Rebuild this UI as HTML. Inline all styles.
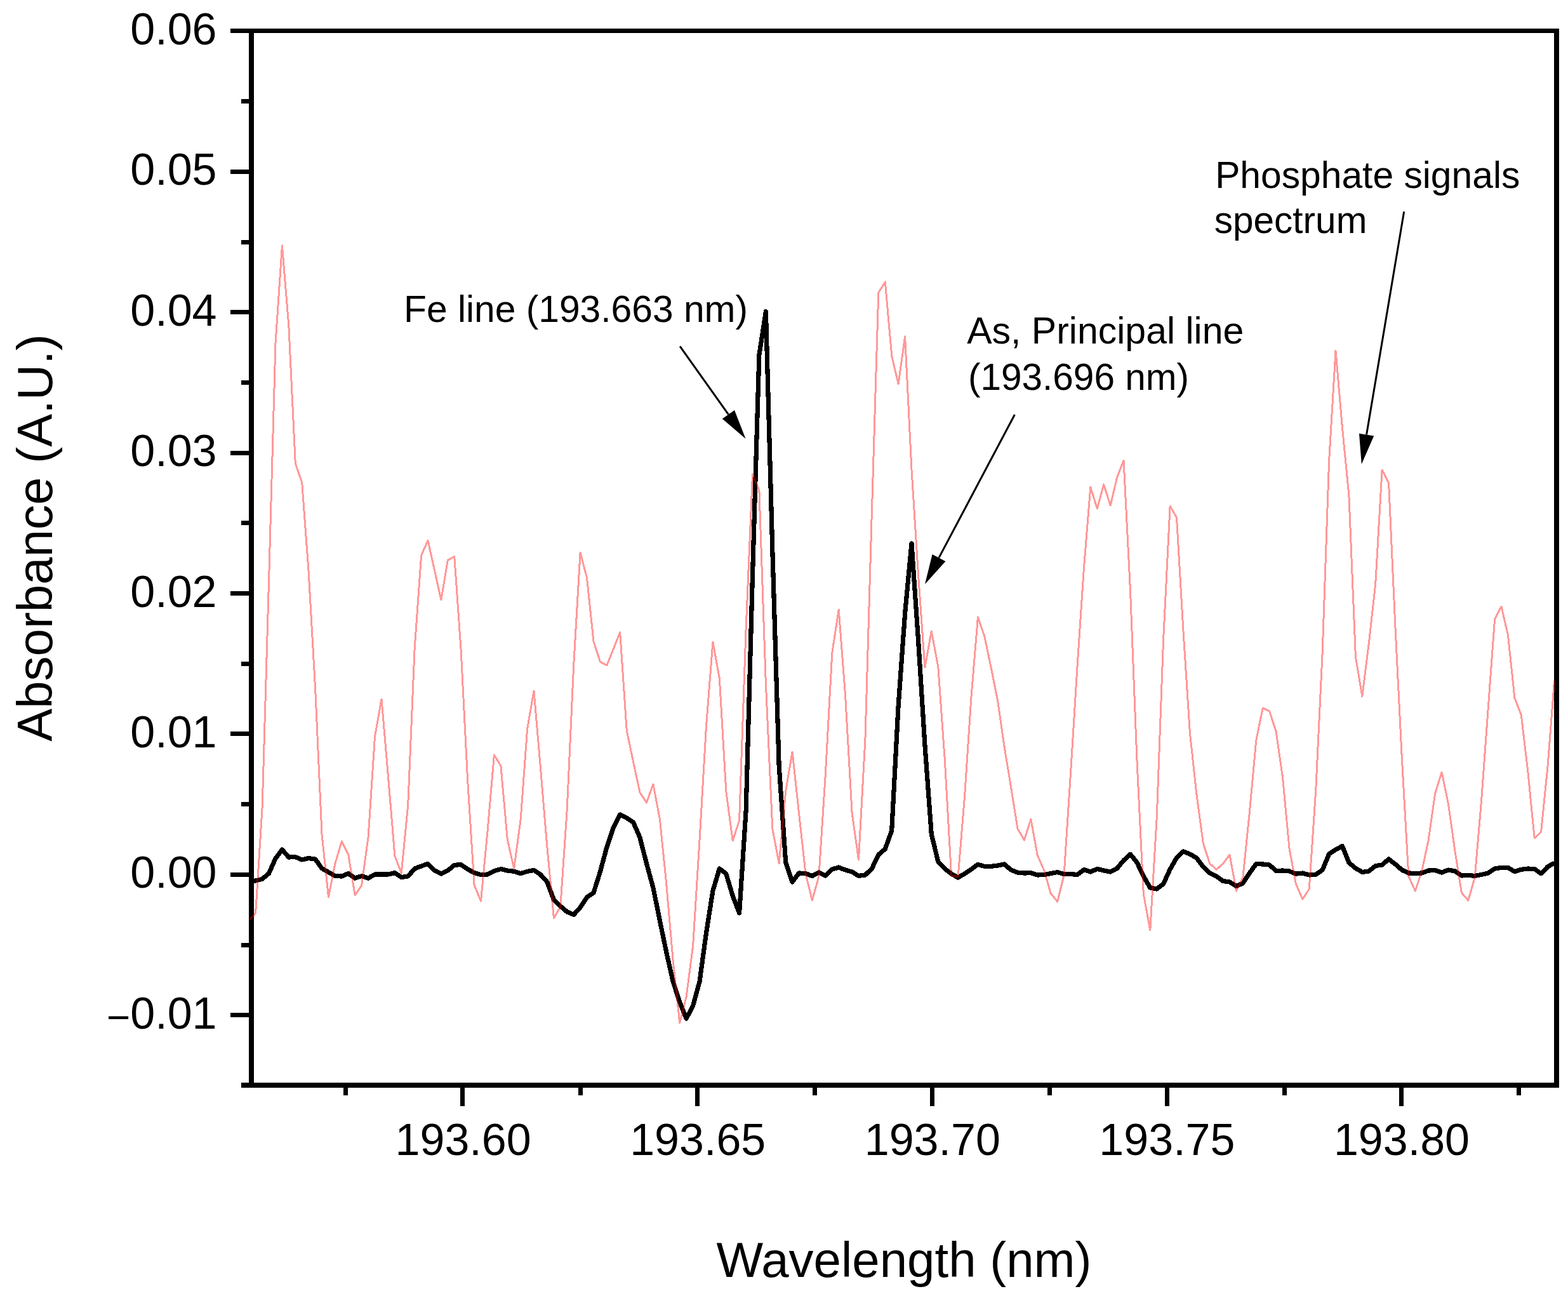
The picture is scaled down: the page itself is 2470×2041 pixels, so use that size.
<!DOCTYPE html>
<html lang="en"><head><meta charset="utf-8"><title>Absorbance spectrum</title>
<style>html,body{margin:0;padding:0;background:#fff}body{width:2470px;height:2041px;overflow:hidden}svg text{fill:#000}</style>
</head><body>
<svg width="2470" height="2041" viewBox="0 0 2470 2041" style="display:block" font-family='"Liberation Sans", Arial, Helvetica, sans-serif'>
<rect x="0" y="0" width="2470" height="2041" fill="#ffffff"/>
<clipPath id="plotclip"><rect x="394" y="48.5" width="2057" height="1660.5"/></clipPath>
<g fill="#000" shape-rendering="crispEdges">
<rect x="392" y="45" width="8" height="1668"/>
<rect x="2448" y="45" width="8" height="1668"/>
<rect x="392" y="45" width="2064" height="7"/>
<rect x="392" y="1705" width="2064" height="8"/>
<rect x="380" y="1705" width="12" height="8"/>
<rect x="363" y="1595" width="29" height="7"/>
<rect x="380" y="1485" width="12" height="7"/>
<rect x="363" y="1374" width="29" height="7"/>
<rect x="380" y="1263" width="12" height="7"/>
<rect x="363" y="1152" width="29" height="7"/>
<rect x="380" y="1042" width="12" height="7"/>
<rect x="363" y="931" width="29" height="7"/>
<rect x="380" y="820" width="12" height="7"/>
<rect x="363" y="710" width="29" height="7"/>
<rect x="380" y="599" width="12" height="7"/>
<rect x="363" y="488" width="29" height="7"/>
<rect x="380" y="378" width="12" height="7"/>
<rect x="363" y="267" width="29" height="7"/>
<rect x="380" y="156" width="12" height="7"/>
<rect x="363" y="45" width="29" height="7"/>
<rect x="541" y="1713" width="7" height="12"/>
<rect x="725" y="1713" width="7" height="29"/>
<rect x="911" y="1713" width="7" height="12"/>
<rect x="1095" y="1713" width="7" height="29"/>
<rect x="1280" y="1713" width="7" height="12"/>
<rect x="1465" y="1713" width="7" height="29"/>
<rect x="1650" y="1713" width="7" height="12"/>
<rect x="1835" y="1713" width="7" height="29"/>
<rect x="2020" y="1713" width="7" height="12"/>
<rect x="2204" y="1713" width="7" height="29"/>
<rect x="2389" y="1713" width="7" height="12"/>
</g>
<polyline points="392.2,1388.0 402.6,1387.0 413.1,1384.3 423.5,1375.6 434.0,1352.0 444.4,1338.0 454.8,1350.0 465.3,1349.6 475.7,1354.0 486.1,1351.6 496.6,1353.0 507.0,1367.6 517.5,1373.6 527.9,1379.4 538.3,1380.0 548.8,1375.6 559.2,1383.0 569.7,1379.6 580.1,1383.0 590.5,1377.0 601.0,1377.0 611.4,1377.0 621.9,1374.6 632.3,1381.6 642.7,1380.0 653.2,1368.0 663.6,1364.0 674.0,1360.4 684.5,1370.6 694.9,1376.0 705.4,1371.0 715.8,1362.4 726.2,1361.6 736.7,1369.0 747.1,1374.4 757.5,1377.6 768.0,1377.0 778.4,1371.6 788.9,1368.6 799.3,1371.0 809.7,1372.4 820.2,1375.6 830.6,1372.4 841.0,1370.4 851.5,1377.4 861.9,1389.0 872.4,1417.0 882.8,1427.0 893.2,1436.0 903.7,1440.5 914.1,1429.0 924.5,1413.0 935.0,1406.0 945.4,1373.0 955.9,1334.0 966.3,1303.0 976.7,1283.0 987.2,1288.0 997.6,1295.0 1008.0,1319.0 1018.5,1360.0 1028.9,1398.0 1039.4,1450.0 1049.8,1500.0 1060.2,1546.0 1070.7,1578.0 1081.1,1604.0 1091.6,1584.0 1102.0,1546.0 1112.4,1470.0 1122.9,1403.0 1133.3,1368.0 1143.8,1376.0 1154.2,1411.0 1164.6,1438.0 1175.1,1277.0 1185.5,905.0 1195.9,559.0 1206.4,490.5 1216.8,866.0 1227.2,1207.0 1237.7,1358.0 1248.1,1389.0 1258.6,1375.0 1269.0,1375.6 1279.4,1379.6 1289.9,1374.0 1300.3,1379.0 1310.8,1369.0 1321.2,1366.0 1331.6,1370.0 1342.1,1373.0 1352.5,1379.4 1362.9,1378.0 1373.4,1368.0 1383.8,1346.0 1394.3,1337.0 1404.7,1308.0 1415.1,1112.0 1425.6,966.0 1436.0,856.0 1446.5,1008.0 1456.9,1173.0 1467.3,1314.0 1477.8,1357.0 1488.2,1368.0 1498.6,1376.0 1509.1,1382.0 1519.5,1376.0 1530.0,1369.0 1540.4,1361.4 1550.8,1364.4 1561.3,1364.4 1571.7,1363.0 1582.1,1361.0 1592.6,1370.0 1603.0,1374.0 1613.5,1375.0 1623.9,1374.7 1634.3,1378.0 1644.8,1377.6 1655.2,1375.6 1665.7,1373.6 1676.1,1376.6 1686.5,1376.6 1697.0,1377.4 1707.4,1369.6 1717.8,1373.0 1728.3,1368.4 1738.7,1371.0 1749.2,1373.0 1759.6,1367.6 1770.0,1355.0 1780.5,1345.4 1790.9,1358.0 1801.3,1380.0 1811.8,1398.0 1822.2,1400.0 1832.7,1392.0 1843.1,1369.0 1853.5,1351.0 1864.0,1341.0 1874.4,1345.0 1884.8,1351.0 1895.3,1365.0 1905.7,1375.0 1916.2,1380.0 1926.6,1387.6 1937.0,1389.0 1947.5,1395.6 1957.9,1391.0 1968.3,1375.0 1978.8,1360.6 1989.2,1361.0 1999.7,1362.0 2010.1,1371.6 2020.5,1371.0 2031.0,1372.0 2041.4,1376.2 2051.8,1375.0 2062.3,1378.0 2072.7,1377.4 2083.2,1370.0 2093.6,1345.0 2104.0,1338.0 2114.5,1332.4 2124.9,1358.6 2135.4,1367.4 2145.8,1373.4 2156.2,1372.0 2166.7,1363.6 2177.1,1362.0 2187.6,1353.0 2198.0,1361.0 2208.4,1370.0 2218.9,1375.0 2229.3,1375.4 2239.7,1375.0 2250.2,1371.0 2260.6,1370.6 2271.1,1374.0 2281.5,1370.0 2291.9,1372.0 2302.4,1379.0 2312.8,1378.4 2323.2,1379.4 2333.7,1377.4 2344.1,1375.0 2354.6,1368.0 2365.0,1366.4 2375.4,1366.4 2385.9,1372.6 2396.3,1369.4 2406.7,1368.0 2417.2,1368.6 2427.6,1375.6 2438.1,1365.0 2448.5,1359.0" fill="none" stroke="#000000" stroke-width="7.2" stroke-linejoin="round" stroke-linecap="butt" clip-path="url(#plotclip)" shape-rendering="crispEdges" />
<polyline points="392.2,1450.0 402.6,1438.0 413.1,1272.0 423.5,916.0 434.0,540.0 444.4,387.0 454.8,513.0 465.3,730.0 475.7,760.0 486.1,900.0 496.6,1084.0 507.0,1314.0 517.5,1413.0 527.9,1360.0 538.3,1325.0 548.8,1346.0 559.2,1410.0 569.7,1394.0 580.1,1318.0 590.5,1160.0 601.0,1101.0 611.4,1222.0 621.9,1348.0 632.3,1375.0 642.7,1268.0 653.2,1020.0 663.6,875.0 674.0,851.0 684.5,898.0 694.9,945.0 705.4,882.0 715.8,876.5 726.2,1025.0 736.7,1230.0 747.1,1394.0 757.5,1419.0 768.0,1309.0 778.4,1189.0 788.9,1206.0 799.3,1322.0 809.7,1368.0 820.2,1290.0 830.6,1148.0 841.0,1088.0 851.5,1210.0 861.9,1334.0 872.4,1446.0 882.8,1428.0 893.2,1275.0 903.7,1047.0 914.1,870.0 924.5,910.0 935.0,1010.0 945.4,1042.0 955.9,1048.0 966.3,1022.0 976.7,996.0 987.2,1150.0 997.6,1200.0 1008.0,1248.0 1018.5,1264.0 1028.9,1235.0 1039.4,1290.0 1049.8,1393.0 1060.2,1513.0 1070.7,1611.0 1081.1,1570.0 1091.6,1490.0 1102.0,1323.0 1112.4,1145.0 1122.9,1011.0 1133.3,1068.0 1143.8,1246.0 1154.2,1324.0 1164.6,1292.0 1175.1,990.0 1185.5,747.0 1195.9,772.0 1206.4,1078.0 1216.8,1305.0 1227.2,1360.0 1237.7,1246.0 1248.1,1184.0 1258.6,1281.0 1269.0,1375.6 1279.4,1418.0 1289.9,1380.0 1300.3,1220.0 1310.8,1028.0 1321.2,960.0 1331.6,1096.0 1342.1,1280.0 1352.5,1354.0 1362.9,1165.0 1373.4,805.0 1383.8,461.0 1394.3,444.0 1404.7,560.0 1415.1,605.0 1425.6,530.0 1436.0,740.0 1446.5,905.0 1456.9,1051.0 1467.3,994.0 1477.8,1050.0 1488.2,1195.0 1498.6,1379.0 1509.1,1381.0 1519.5,1255.0 1530.0,1097.0 1540.4,972.0 1550.8,1002.0 1561.3,1052.0 1571.7,1104.0 1582.1,1176.0 1592.6,1240.0 1603.0,1305.0 1613.5,1323.0 1623.9,1290.0 1634.3,1347.0 1644.8,1371.0 1655.2,1407.0 1665.7,1420.0 1676.1,1378.0 1686.5,1218.0 1697.0,1050.0 1707.4,895.0 1717.8,767.0 1728.3,801.0 1738.7,763.0 1749.2,796.0 1759.6,752.0 1770.0,725.0 1780.5,930.0 1790.9,1196.0 1801.3,1408.0 1811.8,1465.0 1822.2,1288.0 1832.7,1005.0 1843.1,797.0 1853.5,815.0 1864.0,994.0 1874.4,1154.0 1884.8,1250.0 1895.3,1328.0 1905.7,1360.0 1916.2,1369.4 1926.6,1360.0 1937.0,1346.0 1947.5,1403.0 1957.9,1382.0 1968.3,1280.0 1978.8,1166.0 1989.2,1115.0 1999.7,1120.0 2010.1,1152.0 2020.5,1224.0 2031.0,1336.0 2041.4,1392.0 2051.8,1416.0 2062.3,1400.0 2072.7,1245.0 2083.2,1027.0 2093.6,726.0 2104.0,552.5 2114.5,674.0 2124.9,780.0 2135.4,1034.0 2145.8,1097.0 2156.2,1014.0 2166.7,920.0 2177.1,740.0 2187.6,761.0 2198.0,989.0 2208.4,1195.0 2218.9,1380.0 2229.3,1403.0 2239.7,1372.0 2250.2,1323.0 2260.6,1250.0 2271.1,1216.0 2281.5,1266.0 2291.9,1340.0 2302.4,1406.0 2312.8,1418.0 2323.2,1382.0 2333.7,1259.0 2344.1,1117.0 2354.6,975.0 2365.0,955.0 2375.4,1000.0 2385.9,1099.0 2396.3,1126.0 2406.7,1214.0 2417.2,1320.0 2427.6,1310.0 2438.1,1206.0 2448.5,1072.0" fill="none" stroke="#ff0000" stroke-width="3.0" stroke-linejoin="round" stroke-linecap="butt" clip-path="url(#plotclip)" shape-rendering="crispEdges" stroke-opacity="0.4"/>
<text x="341.5" y="1619.7" font-size="70" text-anchor="end"><tspan font-size="64" dy="4.5">−</tspan><tspan dy="-4.5">0.01</tspan></text>
<text x="341.5" y="1398.3" font-size="70" text-anchor="end">0.00</text>
<text x="341.5" y="1176.9" font-size="70" text-anchor="end">0.01</text>
<text x="341.5" y="955.5" font-size="70" text-anchor="end">0.02</text>
<text x="341.5" y="734.1" font-size="70" text-anchor="end">0.03</text>
<text x="341.5" y="512.7" font-size="70" text-anchor="end">0.04</text>
<text x="341.5" y="291.3" font-size="70" text-anchor="end">0.05</text>
<text x="341.5" y="69.9" font-size="70" text-anchor="end">0.06</text>
<text x="729.6" y="1819" font-size="70" text-anchor="middle">193.60</text>
<text x="1099.2" y="1819" font-size="70" text-anchor="middle">193.65</text>
<text x="1468.8" y="1819" font-size="70" text-anchor="middle">193.70</text>
<text x="1838.4" y="1819" font-size="70" text-anchor="middle">193.75</text>
<text x="2208.0" y="1819" font-size="70" text-anchor="middle">193.80</text>
<text x="1424" y="2011" font-size="78" text-anchor="middle">Wavelength (nm)</text>
<text transform="translate(82.3,847) rotate(-90)" font-size="78" text-anchor="middle">Absorbance (A.U.)</text>
<text x="636" y="506.6" font-size="58.75">Fe line (193.663 nm)</text>
<text x="1523.2" y="541.4" font-size="59">As, Principal line</text>
<text x="1525" y="613.7" font-size="58.5">(193.696 nm)</text>
<text x="1914.2" y="295.7" font-size="58.75">Phosphate signals</text>
<text x="1912.8" y="367.2" font-size="58.5">spectrum</text>
<line x1="1071.1" y1="545.3" x2="1147.4" y2="652.7" stroke="#000" stroke-width="3"/><polygon points="1174.6,691.0 1137.8,659.5 1157.0,645.9" fill="#000"/>
<line x1="1598.4" y1="653.0" x2="1479.0" y2="878.4" stroke="#000" stroke-width="3"/><polygon points="1457.0,919.9 1468.6,872.9 1489.4,883.9" fill="#000"/>
<line x1="2211.7" y1="333.3" x2="2152.6" y2="684.6" stroke="#000" stroke-width="3"/><polygon points="2144.8,731.0 2141.0,682.7 2164.2,686.6" fill="#000"/>
</svg>
</body></html>
